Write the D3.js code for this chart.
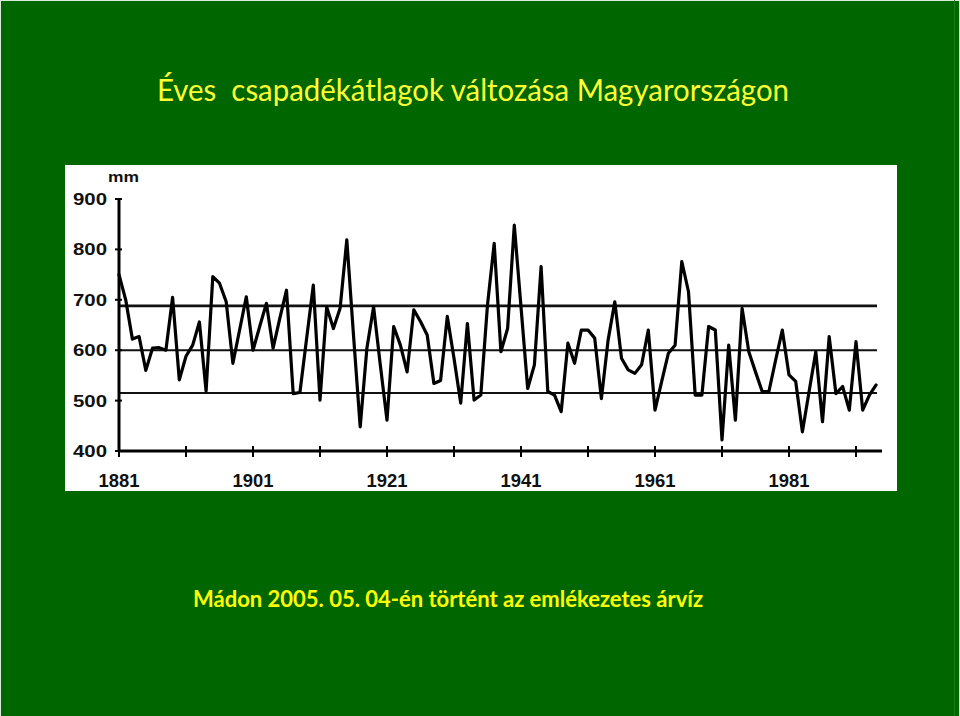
<!DOCTYPE html>
<html><head><meta charset="utf-8">
<script src="https://cdn.jsdelivr.net/npm/d3@7"></script>
<style>html,body{margin:0;padding:0;background:#006600;}svg{display:block;}</style>
</head><body>
<svg id="c" width="960" height="716"></svg>
<script>
const titleText = "Éves  csapadékátlagok változása Magyarországon";
const subtitleText = "Mádon 2005. 05. 04-én történt az emlékezetes árvíz";
const unitLabel = "mm";
const startYear = 1881;
const values = [
 750,700,622,627,560,604,605,600,705,541,
 588,610,656,519,746,733,696,574,640,706,
 600,647,693,604,663,719,514,516,623,729,
 501,686,643,683,819,630,448,604,686,571,
 461,647,610,557,680,657,630,534,540,667,
 584,495,653,501,511,690,812,597,643,848,
 686,524,571,766,518,511,478,614,574,640,
 640,624,504,620,696,584,561,554,571,640,
 481,538,594,610,776,716,511,511,647,640,
 422,610,461,683,597,557,518,518,580,640,
 551,538,438,518,597,458,627,514,528,481,
 617,481,511,531
];
const years = values.map((v,i)=>startYear+i);
const refLines = [688, 600, 515];
const yTicks = [400,500,600,700,800,900];
const xLabelYears = [1881,1901,1921,1941,1961,1981];
const xTickYears = [1881,1891,1901,1911,1921,1931,1941,1951,1961,1971,1981,1991];

const svg = d3.select("#c");
svg.append("rect").attr("x",0).attr("y",0).attr("width",960).attr("height",716).attr("fill","#006600");
// thin slide edges
svg.append("line").attr("x1",0.5).attr("x2",0.5).attr("y1",0).attr("y2",716).attr("stroke","#d8ecd8").attr("stroke-width",1);
svg.append("line").attr("x1",0).attr("x2",960).attr("y1",0.5).attr("y2",0.5).attr("stroke","#d8ecd8").attr("stroke-width",1);
svg.append("line").attr("x1",954.5).attr("x2",954.5).attr("y1",0).attr("y2",716).attr("stroke","#1a7a1a").attr("stroke-width",1);
svg.append("line").attr("x1",959.5).attr("x2",959.5).attr("y1",0).attr("y2",716).attr("stroke","#d8ecd8").attr("stroke-width",1);

svg.append("text").attr("x",157).attr("y",101).attr("fill","#ffff33")
  .attr("font-family","Lato, 'Open Sans', sans-serif").attr("font-size",30)
  .attr("textLength",632).attr("lengthAdjust","spacingAndGlyphs")
  .style("white-space","pre").text(titleText);
svg.append("text").attr("x",193).attr("y",607).attr("fill","#ffff00")
  .attr("font-family","Lato, 'Open Sans', sans-serif").attr("font-weight","bold").attr("font-size",22)
  .attr("textLength",510).attr("lengthAdjust","spacingAndGlyphs")
  .text(subtitleText);

// chart panel
svg.append("rect").attr("x",65).attr("y",165).attr("width",832).attr("height",326).attr("fill","#ffffff");

const x = d3.scaleLinear().domain([1881,1991]).range([119,856]);
const y = d3.scaleLinear().domain([400,900]).range([451,199]);

const g = svg.append("g");
const lab = "'Liberation Sans', Arial, sans-serif";

// reference lines
g.selectAll("line.ref").data(refLines).enter().append("line")
  .attr("x1",x(1881)).attr("x2",877)
  .attr("y1",d=>y(d)).attr("y2",d=>y(d))
  .attr("stroke","#111").attr("stroke-width",(d,i)=>i===0?2.6:2);

// y axis
g.append("line").attr("x1",x(1881)).attr("x2",x(1881)).attr("y1",y(900)).attr("y2",y(400)).attr("stroke","#000").attr("stroke-width",3);
g.selectAll("line.yt").data(yTicks).enter().append("line")
  .attr("x1",x(1881)-4).attr("x2",x(1881)+3).attr("y1",d=>y(d)).attr("y2",d=>y(d))
  .attr("stroke","#000").attr("stroke-width",2);
g.selectAll("text.yl").data(yTicks).enter().append("text")
  .attr("x",107).attr("y",d=>y(d)+6).attr("text-anchor","end")
  .attr("font-family",lab).attr("font-weight","bold").attr("font-size",16)
  .attr("textLength",34).attr("lengthAdjust","spacingAndGlyphs")
  .attr("fill","#111").text(d=>d);
g.append("text").attr("x",108).attr("y",182).attr("font-family",lab).attr("font-weight","bold")
  .attr("font-size",15).attr("textLength",31).attr("lengthAdjust","spacingAndGlyphs").attr("fill","#111").text(unitLabel);

// x axis
g.append("line").attr("x1",x(1881)).attr("x2",882).attr("y1",y(400)).attr("y2",y(400)).attr("stroke","#000").attr("stroke-width",3);
g.selectAll("line.xt").data(xTickYears).enter().append("line")
  .attr("x1",d=>x(d)).attr("x2",d=>x(d)).attr("y1",y(400)-5).attr("y2",y(400)+6)
  .attr("stroke","#000").attr("stroke-width",2);
g.selectAll("text.xl").data(xLabelYears).enter().append("text")
  .attr("x",d=>x(d)).attr("y",487).attr("text-anchor","middle")
  .attr("font-family",lab).attr("font-weight","bold").attr("font-size",18)
  .attr("textLength",41).attr("lengthAdjust","spacingAndGlyphs")
  .attr("fill","#111").text(d=>d);

// data line
const line = d3.line().x((d,i)=>x(years[i])).y(d=>y(d)).curve(d3.curveLinear);
g.append("path").datum(values).attr("d",line).attr("fill","none")
  .attr("stroke","#000").attr("stroke-width",3.2).attr("stroke-linejoin","round").attr("stroke-linecap","round");
</script>
</body></html>
